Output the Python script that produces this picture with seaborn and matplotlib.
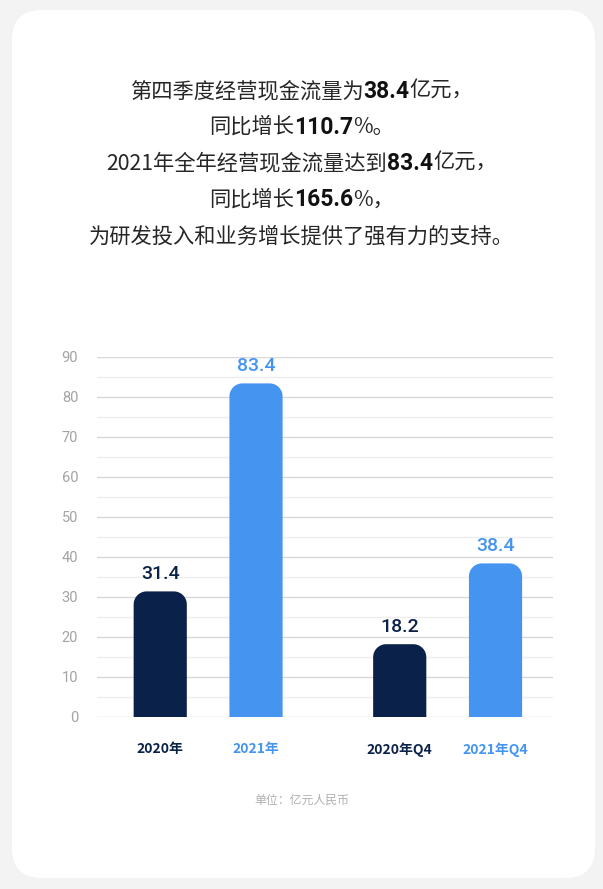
import matplotlib
matplotlib.use("Agg")
import matplotlib.pyplot as plt
import seaborn as sns
import pandas as pd
import numpy as np
from matplotlib.patches import FancyBboxPatch, Polygon

categories = ["2020年", "2021年", "2020年Q4", "2021年Q4"]
positions = [0, 1, 2.5, 3.5]
values = [31.4, 83.4, 18.2, 38.4]
value_labels = ["31.4", "83.4", "18.2", "38.4"]
yticks = [0, 10, 20, 30, 40, 50, 60, 70, 80, 90]
title_lines = [
    [("第四季度经营现金流量为", False), ("38.4", True), ("亿元，", False)],
    [("同比增长", False), ("110.7", True), ("%。", False)],
    [("2021年全年经营现金流量达到", False), ("83.4", True), ("亿元，", False)],
    [("同比增长", False), ("165.6", True), ("%，", False)],
    [("为研发投入和业务增长提供了强有力的支持。", False)],
]
footer = "单位：亿元人民币"

DARK = "#0a2149"
BLUE = "#4594f0"
colors = [DARK, BLUE, DARK, BLUE]

sns.set_theme(style="white")
plt.rcParams['font.family'] = ['Noto Sans CJK SC', 'DejaVu Sans']

W, H = 603, 889
fig = plt.figure(figsize=(W / 100, H / 100), dpi=100)
fig.patch.set_facecolor("#f3f3f3")

# white card
card = FancyBboxPatch((12 / W, (H - 878) / H), (595 - 12) / W, (878 - 10) / H,
                      boxstyle=f"round,pad=0,rounding_size={30 / W}",
                      transform=fig.transFigure, facecolor="white",
                      edgecolor="none", mutation_aspect=W / H, zorder=-5)
fig.patches.append(card)

ax_w_px = 553 - 97
ax = fig.add_axes([97 / W, 1 - 717 / H, ax_w_px / W, 360 / H])
ax.set_facecolor("none")
ax.set_zorder(2)

df = pd.DataFrame({"pos": positions, "value": values, "cat": categories})
sns.barplot(data=df, x="pos", y="value", hue="cat", palette=colors,
            native_scale=True, width=0.555, legend=False, ax=ax,
            saturation=1, dodge=False)

XMIN, XMAX = -0.66, 4.10
ax.set_xlim(XMIN, XMAX)
ax.set_ylim(0, 90)
px_per_x = ax_w_px / (XMAX - XMIN)
px_per_y = 360 / 90

# gridlines
for v in range(0, 91, 5):
    ax.axhline(v, color="#d8d8d8" if v % 10 == 0 else "#eeeeee",
               lw=1.0, zorder=0)

# rounded-top bars (replace seaborn rectangles with same geometry)
r_px = 13
rx, ry = r_px / px_per_x, r_px / px_per_y
th = np.linspace(0, np.pi / 2, 20)
for p in list(ax.patches):
    x0, y0 = p.get_x(), p.get_y()
    w, h = p.get_width(), p.get_height()
    if h <= 0:
        continue
    fc = p.get_facecolor()
    p.remove()
    x1, y1 = x0 + w, y0 + h
    left_arc = np.column_stack([x0 + rx - rx * np.cos(th), y1 - ry + ry * np.sin(th)])
    right_arc = np.column_stack([x1 - rx + rx * np.sin(th), y1 - ry + ry * np.cos(th)])
    pts = np.vstack([[[x0, y0]], left_arc, right_arc, [[x1, y0]]])
    ax.add_patch(Polygon(pts, closed=True, facecolor=fc, edgecolor="none", zorder=2))

for x, v, lab, c in zip(positions, values, value_labels, colors):
    ax.annotate(lab, (x, v), xytext=(0, 12.5), textcoords="offset points",
                ha="center", va="center", fontsize=14, color=c,
                fontweight="medium", family=['Roboto', 'DejaVu Sans'], zorder=5)

ax.set_yticks(yticks)
ax.set_yticklabels([str(t) for t in yticks], color="#a3a3a3", fontsize=10.5,
                   family=['Roboto', 'DejaVu Sans'], fontweight="normal")
ax.tick_params(axis="y", length=0, pad=13.5)
ax.set_xticks(positions)
ax.set_xticklabels(categories, fontsize=10, fontweight="bold")
for t, c in zip(ax.get_xticklabels(), colors):
    t.set_color(c)
ax.tick_params(axis="x", length=0, pad=18)
ax.set_xlabel("")
ax.set_ylabel("")
sns.despine(ax=ax, left=True, bottom=True, top=True, right=True)

# title with mixed weights
fig.canvas.draw()
renderer = fig.canvas.get_renderer()
line_ys = [91, 127, 163, 200, 237]
for segs, yp in zip(title_lines, line_ys):
    texts = []
    for s, bold in segs:
        if bold:
            t = fig.text(0, 1 - yp / H, s, fontsize=16.5, fontweight="bold",
                         color="#111111", ha="left", va="center",
                         family=['Roboto', 'Noto Sans CJK SC'])
        else:
            t = fig.text(0, 1 - yp / H, s, fontsize=15.3, fontweight="light",
                         color="#262626", ha="left", va="center",
                         family=['Noto Sans CJK SC', 'DejaVu Sans'])
        texts.append(t)
    widths = [t.get_window_extent(renderer).width for t in texts]
    total = sum(widths)
    x = 301.5 - total / 2
    for t, wdt in zip(texts, widths):
        t.set_x(x / W)
        x += wdt

fig.text(301.5 / W, 1 - 800 / H, footer, ha="center", va="center",
         fontsize=8.6, color="#b0b0b0")

fig.savefig("out.png", dpi=100, facecolor=fig.get_facecolor())
